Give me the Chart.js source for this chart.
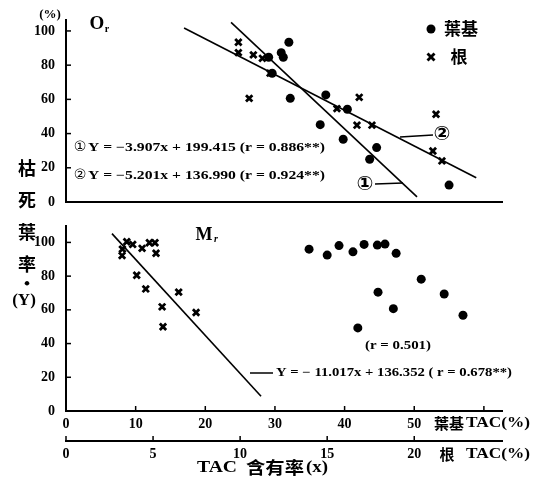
<!DOCTYPE html>
<html>
<head>
<meta charset="utf-8">
<script src="https://cdn.jsdelivr.net/npm/chart.js@4/dist/chart.umd.min.js"></script>
<style>
  body { margin:0; background:#fff; }
  canvas { position:absolute; left:0; }
  #top { top:0; }
  #bot { top:215px; }
</style>
</head>
<body>
<canvas id="top" width="543" height="215"></canvas>
<canvas id="bot" width="543" height="271"></canvas>
<script>
// O_r panel: leaf base (葉基) dots, TAC % on leaf scale
const topLeafX = [32.0, 30.9, 31.2, 29.1, 29.6, 32.2, 37.3, 40.4, 36.5, 39.8, 44.6, 43.6, 55.0];
const topLeafY = [93.4, 87.3, 84.6, 84.6, 75.3, 60.6, 62.6, 54.2, 45.2, 36.7, 31.8, 25.0, 9.9];
// O_r panel: root (根) crosses, TAC % on root scale
const topRootX = [9.90, 9.90, 10.76, 11.28, 10.52, 11.72, 16.84, 15.56, 16.71, 17.57, 21.25, 21.07, 21.59];
const topRootY = [93.4, 87.3, 86.0, 84.0, 60.6, 75.3, 61.2, 54.6, 44.9, 44.9, 51.3, 29.8, 24.0];
// regression lines ① (leaf) and ② (root), end points
const line1X = [23.7, 50.4];
const line1Y = [105, 3];
const line2X = [6.78, 23.56];
const line2Y = [101.7, 14.2];

// M_r panel
const botRootX = [3.49, 3.83, 3.24, 3.22, 4.37, 4.79, 5.11, 5.17, 4.06, 4.58, 6.47, 5.52, 7.47, 5.57];
const botRootY = [100.4, 98.8, 96.0, 92.2, 96.5, 99.8, 99.8, 93.6, 80.5, 72.4, 70.5, 61.8, 58.4, 50.0];
const botLeafX = [34.9, 37.5, 39.2, 41.2, 42.8, 44.7, 45.8, 47.4, 51.0, 44.8, 54.3, 47.0, 57.0, 41.9];
const botLeafY = [96.0, 92.5, 98.1, 94.4, 98.8, 98.4, 99.0, 93.5, 78.2, 70.5, 69.4, 60.7, 56.8, 49.3];
const line3X = [2.64, 11.2];
const line3Y = [105.2, 8.7];

const yTicks = [0, 20, 40, 60, 80, 100];
const leafTicks = [0, 10, 20, 30, 40, 50, 60];
const rootTicks = [0, 5, 10, 15, 20];

const SERIF = '"Liberation Serif", "DejaVu Serif", serif';
const CJK = '"Noto Sans CJK TC", "Noto Sans CJK SC", sans-serif';
Chart.defaults.font.family = SERIF;
Chart.defaults.color = '#000';

const pts = (xs, ys) => xs.map((x, i) => ({x, y: ys[i]}));

function txt(ctx, s, x, y, font, align) {
  ctx.font = font;
  ctx.textAlign = align || 'center';
  ctx.textBaseline = 'middle';
  ctx.fillStyle = '#000';
  ctx.fillText(s, x, y);
}
// draw text stretched to a given width
function fitTxt(ctx, s, x, y, w, font) {
  ctx.save();
  ctx.font = font;
  ctx.textAlign = 'left';
  ctx.textBaseline = 'middle';
  ctx.fillStyle = '#000';
  const m = ctx.measureText(s).width;
  ctx.translate(x, y);
  ctx.scale(w / m, 1);
  ctx.fillText(s, 0, 0);
  ctx.restore();
}
function seg(ctx, x1, y1, x2, y2, w) {
  ctx.beginPath();
  ctx.moveTo(x1, y1);
  ctx.lineTo(x2, y2);
  ctx.lineWidth = w || 1.5;
  ctx.strokeStyle = '#000';
  ctx.stroke();
}

// inward tick marks
const innerTicks = {
  id: 'innerTicks',
  afterDraw(c) {
    const ctx = c.ctx, a = c.chartArea;
    const ys = c.scales.y;
    ys.ticks.forEach(t => { const p = ys.getPixelForValue(t.value); seg(ctx, a.left, p, a.left + 5, p, 1.5); });
    if (c.canvas.id === 'bot') {
      ['xLeaf', 'xRoot'].forEach(id => {
        const s = c.scales[id];
        s.ticks.forEach(t => { const p = s.getPixelForValue(t.value); seg(ctx, p, s.top, p, s.top - 5, 1.5); });
      });
    }
  }
};

function makeOptions(yMax, pad, showX, leafH, rootH) {
  return {
    responsive: false,
    animation: false,
    devicePixelRatio: 1,
    layout: { padding: pad },
    plugins: { legend: { display: false }, tooltip: { enabled: false } },
    scales: {
      y: {
        min: 0, max: yMax,
        afterBuildTicks: s => { s.ticks = yTicks.map(v => ({value: v})); },
        afterFit: s => { s.width = 66; },
        grid: { display: false },
        border: { display: true, color: '#000', width: 2 },
        ticks: { font: { size: 14, weight: 'bold' }, padding: 3, color: '#000' }
      },
      xLeaf: {
        type: 'linear', position: 'bottom', min: 0, max: 62.6,
        afterBuildTicks: s => { s.ticks = leafTicks.map(v => ({value: v})); },
        afterFit: s => { s.height = leafH; },
        grid: { display: false, drawTicks: false },
        border: { display: true, color: '#000', width: 2 },
        ticks: { display: showX, font: { size: 14, weight: 'bold' }, padding: 5, color: '#000',
                 callback: v => v <= 50 ? v : '' }
      },
      xRoot: {
        type: 'linear', position: 'bottom', min: 0, max: 25.04, display: showX,
        afterBuildTicks: s => { s.ticks = rootTicks.map(v => ({value: v})); },
        afterFit: s => { s.height = rootH; },
        grid: { display: false, drawTicks: false },
        border: { display: true, color: '#000', width: 2 },
        ticks: { font: { size: 14, weight: 'bold' }, padding: 5, color: '#000' }
      }
    }
  };
}

const dotStyle = { pointStyle: 'circle', pointRadius: 4.5, backgroundColor: '#000', borderColor: '#000', borderWidth: 0 };
const crossStyle = { pointStyle: 'crossRot', pointRadius: 4.5, borderColor: '#000', borderWidth: 2.8 };
const lineStyle = { showLine: true, borderColor: '#000', borderWidth: 1.6, pointRadius: 0, fill: false };

const topNotes = {
  id: 'topNotes',
  afterDraw(c) {
    const ctx = c.ctx;
    txt(ctx, '(%)', 50, 15, 'bold 13px ' + SERIF);
    txt(ctx, 'O', 97, 24, 'bold 19px ' + SERIF);
    txt(ctx, 'r', 107, 29, 'bold 10px ' + SERIF);
    // legend
    ctx.beginPath(); ctx.arc(431, 29, 4.5, 0, Math.PI * 2); ctx.fillStyle = '#000'; ctx.fill();
    seg(ctx, 427.5, 53.5, 434.5, 60.5, 2.8); seg(ctx, 427.5, 60.5, 434.5, 53.5, 2.8);
    txt(ctx, '葉基', 461, 29, 'bold 17px ' + CJK);
    txt(ctx, '根', 459, 57, 'bold 17px ' + CJK);
    // equations
    txt(ctx, '①', 80, 147, '14px "DejaVu Sans"');
    fitTxt(ctx, 'Y = −3.907x + 199.415 (r = 0.886**)', 88, 148, 237, 'bold 12px ' + SERIF);
    txt(ctx, '②', 80, 175, '14px "DejaVu Sans"');
    fitTxt(ctx, 'Y = −5.201x + 136.990 (r = 0.924**)', 88, 176, 237, 'bold 12px ' + SERIF);
    // line pointers
    seg(ctx, 400, 137, 433, 135, 1.5);
    txt(ctx, '②', 442, 135, 'bold 20px "DejaVu Sans"');
    seg(ctx, 375, 184, 403, 183, 1.5);
    txt(ctx, '①', 365, 185, 'bold 20px "DejaVu Sans"');
    // y label (upper part)
    txt(ctx, '枯', 27, 168, 'bold 18px ' + CJK);
    txt(ctx, '死', 27, 200, 'bold 18px ' + CJK);
  }
};

const botNotes = {
  id: 'botNotes',
  afterDraw(c) {
    const ctx = c.ctx, d = 215;
    txt(ctx, 'M', 204, 235 - d, 'bold 18px ' + SERIF);
    txt(ctx, 'r', 216, 239 - d, 'italic bold 10px ' + SERIF);
    fitTxt(ctx, '(r = 0.501)', 365, 346 - d, 66, 'bold 12px ' + SERIF);
    seg(ctx, 250, 373 - d, 273, 373 - d, 1.5);
    fitTxt(ctx, 'Y = − 11.017x + 136.352 ( r = 0.678**)', 276, 373 - d, 236, 'bold 12px ' + SERIF);
    // y label (lower part)
    txt(ctx, '葉', 27, 232 - d, 'bold 18px ' + CJK);
    txt(ctx, '率', 27, 264 - d, 'bold 18px ' + CJK);
    txt(ctx, '·', 27, 283 - d, 'bold 18px ' + CJK);
    txt(ctx, '(Y)', 24, 301 - d, 'bold 17px ' + SERIF);
    // axis names
    fitTxt(ctx, '葉基', 434, 423 - d, 30, 'bold 15px ' + CJK);
    fitTxt(ctx, 'TAC(%)', 466, 423 - d, 64, 'bold 14px ' + SERIF);
    txt(ctx, '根', 447, 454 - d, 'bold 15px ' + CJK);
    fitTxt(ctx, 'TAC(%)', 466, 454 - d, 64, 'bold 14px ' + SERIF);
    // x title
    fitTxt(ctx, 'TAC', 197, 468 - d, 40, 'bold 17px ' + SERIF);
    fitTxt(ctx, '含有率', 246, 468 - d, 58, 'bold 17px ' + CJK);
    fitTxt(ctx, '(x)', 306, 468 - d, 22, 'bold 17px ' + SERIF);
  }
};

new Chart(document.getElementById('top'), {
  type: 'scatter',
  data: { datasets: [
    { label: '葉基', data: pts(topLeafX, topLeafY), xAxisID: 'xLeaf', yAxisID: 'y', ...dotStyle },
    { label: '根', data: pts(topRootX, topRootY), xAxisID: 'xRoot', yAxisID: 'y', ...crossStyle },
    { label: '①', data: pts(line1X, line1Y), xAxisID: 'xLeaf', yAxisID: 'y', ...lineStyle },
    { label: '②', data: pts(line2X, line2Y), xAxisID: 'xRoot', yAxisID: 'y', ...lineStyle }
  ]},
  options: makeOptions(106.4, { top: 20, right: 41, left: 0, bottom: 0 }, false, 13, 0),
  plugins: [innerTicks, topNotes]
});

new Chart(document.getElementById('bot'), {
  type: 'scatter',
  data: { datasets: [
    { label: '葉基', data: pts(botLeafX, botLeafY), xAxisID: 'xLeaf', yAxisID: 'y', ...dotStyle },
    { label: '根', data: pts(botRootX, botRootY), xAxisID: 'xRoot', yAxisID: 'y', ...crossStyle },
    { label: 'fit', data: pts(line3X, line3Y), xAxisID: 'xRoot', yAxisID: 'y', ...lineStyle }
  ]},
  options: makeOptions(109.5, { top: 8, right: 41, left: 0, bottom: 0 }, true, 30, 45),
  plugins: [innerTicks, botNotes]
});
</script>
</body>
</html>
